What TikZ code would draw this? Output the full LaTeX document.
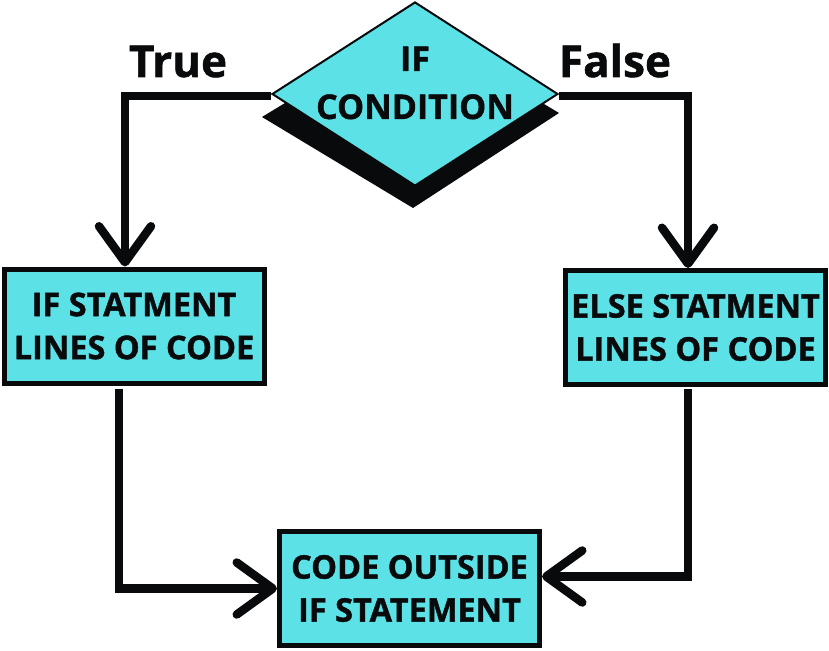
\documentclass[tikz,border=0pt]{standalone}
\usepackage{fontspec}
\setmainfont{Open Sans}[BoldFeatures={FakeBold=1.2}]
\usetikzlibrary{shapes.geometric,arrows.meta}
\definecolor{cyanfill}{RGB}{92,225,230}
\definecolor{ink}{RGB}{8,10,12}
\begin{document}
\begin{tikzpicture}[x=1pt,y=-1pt,
  box/.style={draw=ink, line width=5pt, fill=cyanfill, minimum width=260pt, minimum height=114pt,
    inner sep=0pt, align=center, text=ink, font=\fontsize{32.5}{43}\selectfont\bfseries},
  lbl/.style={anchor=base, text=ink, font=\fontsize{44}{50}\selectfont\bfseries},
  conn/.style={draw=ink, line width=8.5pt, line join=miter},
  arr/.style={-{Straight Barb[length=36pt, width=52pt, line cap=round, line join=round]}}
]
\useasboundingbox (0,0) rectangle (829,650);
% shadow of the decision diamond
\fill[ink] (262,117) -- (413,208) -- (559,113) -- (413,25) -- cycle;
\node[diamond, draw=ink, line width=2pt, fill=cyanfill, minimum width=286pt, minimum height=184pt,
  inner sep=0pt] (dia) at (415,94) {};
\node[align=center, text=ink, font=\fontsize{34}{48}\selectfont\bfseries] (diatext) at (415,83) {IF\\CONDITION};

\node[box] (ifbox) at (134,326) {IF STATMENT\\LINES OF CODE};
\node[box] (elsebox) at (695.5,327.5) {ELSE STATMENT\\LINES OF CODE};
\node[box] (outbox) at (409.5,588.5) {CODE OUTSIDE\\IF STATEMENT};

\node[lbl] (truelbl) at (178,77) {True};
\node[lbl] (falselbl) at (615,77) {False};

\draw[conn, arr] ([yshift=-2pt]dia.west) -| ([xshift=-9pt]ifbox.north);
\draw[conn, arr] ([yshift=-2pt]dia.east) -| ([xshift=-7.5pt]elsebox.north);
\draw[conn, arr] ([xshift=-15pt,yshift=-3pt]ifbox.south) |- (outbox.west);
\draw[conn, arr] ([xshift=-7.5pt,yshift=-2pt]elsebox.south) |- ([yshift=12pt]outbox.east);
\end{tikzpicture}
\end{document}
